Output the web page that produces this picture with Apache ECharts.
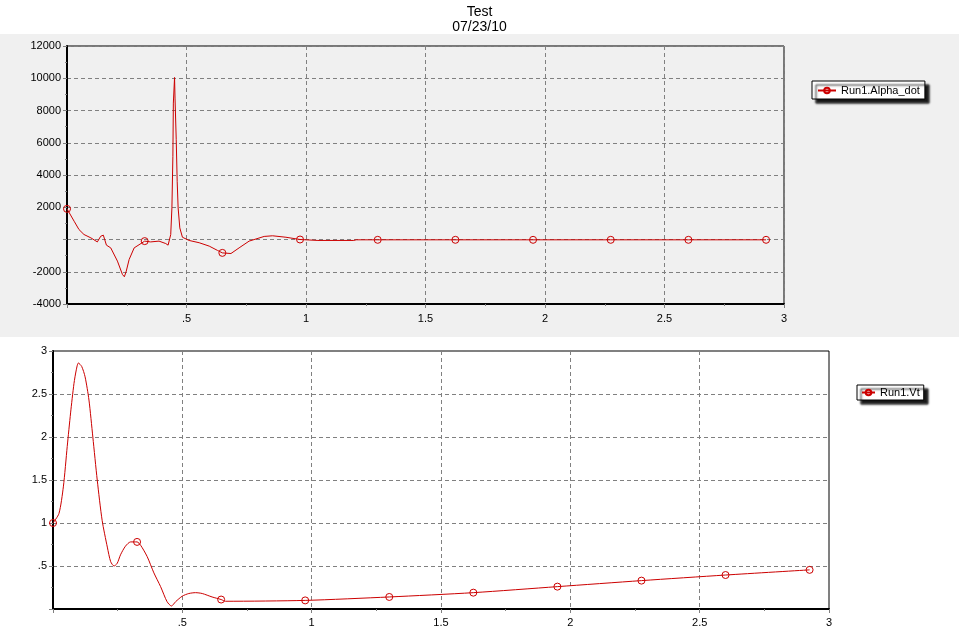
<!DOCTYPE html>
<html>
<head>
<meta charset="utf-8">
<script src="https://cdn.jsdelivr.net/npm/echarts@6/dist/echarts.min.js"></script>
<style>
html,body{margin:0;padding:0;background:#fff;}
#chart{width:959px;height:643px;}
</style>
</head>
<body>
<div id="chart"></div>
<script>
// ---- data ----
var titleText = 'Test';
var subTitleText = '07/23/10';
var seriesNames = ['Run1.Alpha_dot', 'Run1.Vt'];

var alphaX = [0, 0.03, 0.05, 0.071, 0.1, 0.127, 0.141, 0.152, 0.165, 0.183, 0.211, 0.232, 0.24, 0.248, 0.26, 0.281, 0.325, 0.35, 0.385, 0.413, 0.423, 0.434, 0.439, 0.443, 0.445, 0.45, 0.452, 0.457, 0.461, 0.465, 0.472, 0.483, 0.511, 0.553, 0.595, 0.63, 0.65, 0.686, 0.72, 0.762, 0.825, 0.86, 0.916, 0.975, 1.05, 1.2, 1.21, 1.3, 1.625, 1.95, 2.275, 2.6, 2.925];
var alphaY = [1900, 1130, 620, 310, 100, -150, 200, 270, -350, -520, -1340, -2170, -2310, -1960, -1240, -520, -100, -150, -100, -250, -350, 310, 1960, 5160, 8460, 10050, 8770, 6190, 3610, 1960, 720, 140, -60, -200, -410, -680, -830, -870, -520, -100, 190, 230, 140, 0, -60, -60, -20, -20, -20, -20, -20, -20, -20];

var vtX = [0, 0.023, 0.04, 0.055, 0.068, 0.081, 0.09, 0.098, 0.111, 0.124, 0.139, 0.154, 0.171, 0.19, 0.21, 0.223, 0.236, 0.248, 0.261, 0.28, 0.30, 0.325, 0.339, 0.364, 0.39, 0.416, 0.441, 0.458, 0.474, 0.5, 0.525, 0.551, 0.577, 0.615, 0.65, 0.667, 0.975, 1.3, 1.625, 1.95, 2.275, 2.6, 2.925];
var vtY = [1.0, 1.11, 1.42, 1.89, 2.28, 2.62, 2.78, 2.86, 2.82, 2.70, 2.43, 2.00, 1.50, 1.03, 0.72, 0.55, 0.50, 0.53, 0.63, 0.73, 0.78, 0.78, 0.74, 0.61, 0.42, 0.26, 0.085, 0.035, 0.085, 0.15, 0.18, 0.19, 0.18, 0.14, 0.11, 0.09, 0.10, 0.14, 0.19, 0.26, 0.33, 0.395, 0.455];

var markerX = [0, 0.325, 0.65, 0.975, 1.3, 1.625, 1.95, 2.275, 2.6, 2.925];

var xTicks = [0, 0.5, 1, 1.5, 2, 2.5, 3];
var alphaTicks = [-4000, -2000, 0, 2000, 4000, 6000, 8000, 10000, 12000];
var vtTicks = [0, 0.5, 1, 1.5, 2, 2.5, 3];

// ---- build ----
function pairs(xs, ys) { return xs.map(function (x, i) { return [x, ys[i]]; }); }
function markerSizeFn(xs) {
  return function (val, params) {
    return markerX.indexOf(xs[params.dataIndex]) >= 0 ? 7 : 0;
  };
}
function fmt(v) {
  if (v === 0) return '';
  var s = String(v);
  return s.replace(/^0\./, '.').replace(/^-0\./, '-.');
}
var RED = '#cc0000';
var FONT = 'Liberation Sans, Arial, sans-serif';
var labelStyle = { fontSize: 11, color: '#000', fontFamily: FONT };
function xAxis(gridIndex, margin) {
  return {
    type: 'value', gridIndex: gridIndex,
    min: xTicks[0], max: xTicks[xTicks.length - 1], interval: xTicks[1] - xTicks[0],
    axisLine: { show: true, onZero: false, lineStyle: { color: '#000', width: 2 } },
    axisTick: { show: true, length: 4, lineStyle: { color: '#808080' } },
    minorTick: { show: true, splitNumber: 2, length: 2, lineStyle: { color: '#808080' } },
    axisLabel: Object.assign({ formatter: fmt, margin: margin }, labelStyle),
    splitLine: { show: true, lineStyle: { color: '#808080', type: [4, 3], width: 1 } }
  };
}
function yAxis(gridIndex, ticks) {
  return {
    type: 'value', gridIndex: gridIndex,
    min: ticks[0], max: ticks[ticks.length - 1], interval: ticks[1] - ticks[0],
    axisLine: { show: true, onZero: false, lineStyle: { color: '#000', width: 2 } },
    axisTick: { show: true, length: 4, lineStyle: { color: '#808080' } },
    minorTick: { show: true, splitNumber: 2, length: 2, lineStyle: { color: '#808080' } },
    axisLabel: Object.assign({ formatter: fmt, margin: 6 }, labelStyle),
    splitLine: { show: true, lineStyle: { color: '#808080', type: [4, 3], width: 1 } }
  };
}
function legend(name, left, top, pad, iw) {
  return {
    data: [name], left: left, top: top, orient: 'horizontal',
    backgroundColor: '#fff', borderColor: '#000', borderWidth: 1, borderRadius: 0,
    padding: pad, itemWidth: iw, itemHeight: 7, itemGap: 6,
    shadowColor: 'rgba(0,0,0,0.9)', shadowBlur: 2, shadowOffsetX: 4, shadowOffsetY: 4,
    textStyle: { fontSize: 11, color: '#000', fontFamily: FONT }
  };
}

var chart = echarts.init(document.getElementById('chart'), null, { renderer: 'canvas' });
chart.setOption({
  animation: false,
  backgroundColor: '#fff',
  title: {
    text: titleText, subtext: subTitleText, left: 'center', top: 5, itemGap: 1, padding: 0,
    textStyle: { fontSize: 14, fontWeight: 'normal', color: '#000', fontFamily: FONT },
    subtextStyle: { fontSize: 14, color: '#000', fontFamily: FONT }
  },
  graphic: [
    { type: 'rect', left: 0, top: 34, z: -10, silent: true, shape: { width: 959, height: 303 }, style: { fill: '#f0f0f0' } }
  ],
  legend: [
    legend(seriesNames[0], 812, 81, [4, 5, 3, 5], 18),
    legend(seriesNames[1], 857, 385, [2, 4, 2, 4], 13)
  ],
  grid: [
    { left: 67, top: 46, width: 717, height: 258, show: true, backgroundColor: '#f0f0f0', borderColor: '#000', borderWidth: 1 },
    { left: 53, top: 351, width: 776, height: 258, show: true, backgroundColor: '#fff', borderColor: '#000', borderWidth: 1 }
  ],
  xAxis: [xAxis(0, 9), xAxis(1, 8)],
  yAxis: [yAxis(0, alphaTicks), yAxis(1, vtTicks)],
  series: [
    {
      name: seriesNames[0], type: 'line', xAxisIndex: 0, yAxisIndex: 0,
      data: pairs(alphaX, alphaY), z: 5,
      symbol: 'circle', symbolSize: markerSizeFn(alphaX), showAllSymbol: true,
      itemStyle: { color: 'rgba(0,0,0,0)', borderColor: RED, borderWidth: 1 },
      lineStyle: { color: RED, width: 1 },
      emphasis: { disabled: true }
    },
    {
      name: seriesNames[1], type: 'line', xAxisIndex: 1, yAxisIndex: 1,
      data: pairs(vtX, vtY), smooth: 0.25, z: 5,
      symbol: 'circle', symbolSize: markerSizeFn(vtX), showAllSymbol: true,
      itemStyle: { color: 'rgba(0,0,0,0)', borderColor: RED, borderWidth: 1 },
      lineStyle: { color: RED, width: 1 },
      emphasis: { disabled: true }
    }
  ]
});
</script>
</body>
</html>
